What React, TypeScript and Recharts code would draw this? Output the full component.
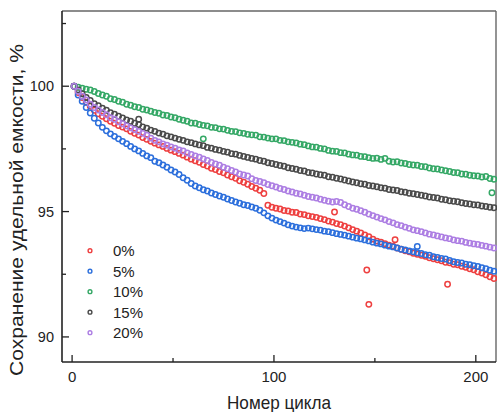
import {
  ScatterChart,
  Scatter,
  XAxis,
  YAxis,
  Legend,
  ReferenceLine,
} from "recharts";

// cycle numbers (every second cycle)
const cycles = [
  1, 3, 5, 7, 9, 11, 13, 15, 17, 19,
  21, 23, 25, 27, 29, 31, 33, 35, 37, 39,
  41, 43, 45, 47, 49, 51, 53, 55, 57, 59,
  61, 63, 65, 67, 69, 71, 73, 75, 77, 79,
  81, 83, 85, 87, 89, 91, 93, 95, 97, 99,
  101, 103, 105, 107, 109, 111, 113, 115, 117, 119,
  121, 123, 125, 127, 129, 131, 133, 135, 137, 139,
  141, 143, 145, 147, 149, 151, 153, 155, 157, 159,
  161, 163, 165, 167, 169, 171, 173, 175, 177, 179,
  181, 183, 185, 187, 189, 191, 193, 195, 197, 199,
  201, 203, 205, 207, 209,
];

const red0 = [
  100.0, 99.75, 99.55, 99.36, 99.2, 99.04, 98.9, 98.8, 98.7, 98.6,
  98.52, 98.43, 98.37, 98.3, 98.2, 98.12, 98.05, 97.95, 97.88, 97.8,
  97.73, 97.66, 97.6, 97.52, 97.45, 97.39, 97.32, 97.25, 97.17, 97.09,
  97.03, 96.97, 96.88, 96.82, 96.73, 96.68, 96.6, 96.55, 96.46, 96.39,
  96.33, 96.23, 96.17, 96.09, 96.0, 95.93, 95.85, 95.72, 95.25, 95.17,
  95.13, 95.1, 95.04, 95.02, 94.97, 94.96, 94.9, 94.88, 94.83, 94.8,
  94.77, 94.72, 94.68, 94.62, 94.58, 94.52, 94.48, 94.42, 94.35, 94.28,
  94.22, 94.15, 94.07, 94.0, 93.9, 93.82, 93.78, 93.72, 93.66, 93.62,
  93.55, 93.5, 93.44, 93.4, 93.34, 93.3, 93.26, 93.22, 93.16, 93.12,
  93.08, 93.04, 92.98, 92.96, 92.9, 92.88, 92.82, 92.78, 92.72, 92.68,
  92.6, 92.55, 92.48, 92.4, 92.33,
];
const red0Extra = [
  [130, 94.98], [146, 92.67], [147, 91.3], [160, 93.88], [186, 92.1],
];

const blue5 = [
  100.0, 99.65, 99.4, 99.15, 98.93, 98.72, 98.53, 98.36, 98.22, 98.1,
  98.0, 97.9, 97.8, 97.71, 97.6, 97.5, 97.42, 97.32, 97.22, 97.15,
  97.01, 96.95, 96.86, 96.77, 96.66, 96.58, 96.48, 96.35, 96.25, 96.12,
  96.02, 95.95, 95.87, 95.82, 95.74, 95.68, 95.62, 95.57, 95.5, 95.44,
  95.38, 95.33, 95.27, 95.24, 95.18, 95.13, 95.05, 94.95, 94.83, 94.74,
  94.66, 94.6, 94.54, 94.47, 94.42, 94.38, 94.35, 94.32, 94.34, 94.31,
  94.28, 94.26, 94.22, 94.2, 94.16, 94.12, 94.09, 94.06, 94.02, 93.98,
  93.94, 93.91, 93.87, 93.83, 93.78, 93.74, 93.71, 93.66, 93.62, 93.59,
  93.55, 93.5, 93.47, 93.43, 93.4, 93.36, 93.33, 93.28, 93.26, 93.2,
  93.17, 93.13, 93.11, 93.05, 93.0, 92.97, 92.95, 92.9, 92.88, 92.84,
  92.81, 92.76, 92.72, 92.66, 92.62,
];
const blue5Extra = [[171, 93.61]];

const green10 = [
  100.0, 99.96, 99.92, 99.88, 99.85, 99.79, 99.71, 99.65, 99.6, 99.5,
  99.47, 99.4, 99.36, 99.28, 99.24, 99.18, 99.15, 99.08, 99.05, 99.0,
  98.95, 98.92, 98.85, 98.83, 98.77, 98.74, 98.68, 98.64, 98.6, 98.53,
  98.52, 98.47, 98.44, 98.42, 98.36, 98.35, 98.3, 98.29, 98.24, 98.2,
  98.19, 98.14, 98.12, 98.08, 98.06, 98.05, 97.98, 97.97, 97.93, 97.9,
  97.9, 97.84, 97.83, 97.78, 97.76, 97.74, 97.69, 97.67, 97.62, 97.58,
  97.57, 97.52, 97.5, 97.44, 97.41, 97.4, 97.35, 97.34, 97.29, 97.26,
  97.25, 97.2, 97.19, 97.15, 97.12, 97.13, 97.08, 97.12, 97.01, 96.98,
  96.99, 96.94, 96.92, 96.88, 96.86, 96.85, 96.8, 96.79, 96.74, 96.71,
  96.7, 96.66, 96.63, 96.6, 96.56, 96.55, 96.5, 96.49, 96.45, 96.43,
  96.42, 96.38, 96.4, 96.32, 96.29,
];
const green10Extra = [[65, 97.9], [208, 95.75]];

const black15 = [
  100.0, 99.85, 99.7, 99.55, 99.43, 99.3, 99.22, 99.12, 99.04, 98.94,
  98.88, 98.8, 98.73, 98.65, 98.6, 98.52, 98.47, 98.38, 98.33, 98.25,
  98.2, 98.13, 98.09, 98.02, 97.98, 97.93, 97.88, 97.84, 97.78, 97.75,
  97.7, 97.66, 97.63, 97.56, 97.53, 97.48, 97.45, 97.4, 97.37, 97.31,
  97.29, 97.24, 97.2, 97.16, 97.12, 97.09, 97.04, 97.01, 96.95, 96.92,
  96.88, 96.84, 96.81, 96.75, 96.72, 96.69, 96.64, 96.62, 96.56, 96.54,
  96.5, 96.47, 96.45, 96.39, 96.37, 96.33, 96.3, 96.26, 96.22, 96.18,
  96.15, 96.11, 96.09, 96.04, 96.02, 95.99, 95.95, 95.93, 95.88, 95.86,
  95.84, 95.79, 95.77, 95.73, 95.71, 95.68, 95.65, 95.62, 95.58, 95.56,
  95.54, 95.49, 95.47, 95.43, 95.41, 95.39, 95.35, 95.32, 95.3, 95.27,
  95.26, 95.22, 95.2, 95.17, 95.15,
];
const black15Extra = [[33, 98.68]];

const purple20 = [
  100.0, 99.8, 99.6, 99.45, 99.28, 99.15, 99.05, 98.95, 98.86, 98.74,
  98.68, 98.58, 98.5, 98.42, 98.34, 98.27, 98.2, 98.12, 98.05, 97.93,
  97.84, 97.78, 97.7, 97.65, 97.58, 97.53, 97.46, 97.42, 97.34, 97.28,
  97.22, 97.17, 97.1, 97.04, 96.96, 96.9, 96.85, 96.77, 96.71, 96.64,
  96.58, 96.5, 96.46, 96.42, 96.31, 96.24, 96.2, 96.15, 96.08, 96.03,
  95.98, 95.92, 95.88, 95.82, 95.78, 95.73, 95.7, 95.65, 95.6, 95.57,
  95.54, 95.49, 95.45, 95.41, 95.38, 95.4, 95.36, 95.27, 95.2, 95.13,
  95.09, 95.03, 94.97, 94.9, 94.84, 94.78, 94.72, 94.67, 94.6, 94.55,
  94.48, 94.44, 94.38, 94.33, 94.27, 94.24, 94.2, 94.15, 94.1, 94.07,
  94.03, 93.99, 93.95, 93.92, 93.87, 93.84, 93.82, 93.77, 93.74, 93.71,
  93.69, 93.65, 93.62, 93.58, 93.55,
];
const purple20Extra: number[][] = [];

const xTicks = [0, 50, 100, 150, 200];
const xLabeled = [0, 100, 200];
const yTicks = [90, 92.5, 95, 97.5, 100, 102.5];
const yLabeled = [90, 95, 100];

const FONT = "'Liberation Sans', Arial, sans-serif";

const toPoints = (vals: number[], extra: number[][]) =>
  vals
    .map((v, i) => ({ x: cycles[i], y: v }))
    .concat(extra.map(([x, y]) => ({ x, y })));

const series = [
  { name: "0%", color: "#ee4040", data: toPoints(red0, red0Extra) },
  { name: "5%", color: "#2c6fdc", data: toPoints(blue5, blue5Extra) },
  { name: "10%", color: "#35a866", data: toPoints(green10, green10Extra) },
  { name: "15%", color: "#4a4a4a", data: toPoints(black15, black15Extra) },
  { name: "20%", color: "#ad7ee3", data: toPoints(purple20, purple20Extra) },
];

const ring = (color: string) => (props: any) => (
  <circle
    cx={props.cx}
    cy={props.cy}
    r={2.7}
    fill="none"
    stroke={color}
    strokeWidth={1.5}
  />
);

function XTick(props: any) {
  const { x, y, payload } = props;
  const major = xLabeled.includes(payload.value);
  return (
    <g>
      <line x1={x} x2={x} y1={y} y2={y - (major ? 7 : 4)} stroke="#222" strokeWidth={1.3} />
      {major && (
        <text x={x} y={y + 19.5} textAnchor="middle" fontSize={15} fill="#222" fontFamily={FONT}>
          {payload.value}
        </text>
      )}
    </g>
  );
}

function YTick(props: any) {
  const { x, y, payload } = props;
  const major = yLabeled.includes(payload.value);
  return (
    <g>
      <line x1={x} x2={x + (major ? 7 : 4)} y1={y} y2={y} stroke="#222" strokeWidth={1.3} />
      {major && (
        <text x={x - 8} y={y + 5} textAnchor="end" fontSize={14.5} fill="#222" fontFamily={FONT}>
          {payload.value}
        </text>
      )}
    </g>
  );
}

function LegendBox() {
  return (
    <svg width={70} height={105}>
      {series.map((s, i) => (
        <g key={s.name}>
          <circle cx={10} cy={10.7 + 20.5 * i} r={1.9} fill="none" stroke={s.color} strokeWidth={1.4} />
          <text x={33} y={16 + 20.5 * i} fontSize={15} fill="#222" fontFamily={FONT}>
            {s.name}
          </text>
        </g>
      ))}
    </svg>
  );
}

export default function App() {
  return (
    <div style={{ position: "absolute", left: 0, top: 0, background: "#fff" }}>
      <ScatterChart
        width={497}
        height={412}
        margin={{ top: 11, right: 1, bottom: 0, left: 0 }}
      >
        <XAxis
          type="number"
          dataKey="x"
          domain={[-5, 210]}
          ticks={xTicks}
          tickSize={0}
          tickMargin={0}
          tickLine={false}
          tick={<XTick />}
          height={50}
          axisLine={{ stroke: "#222", strokeWidth: 1.6 }}
          interval={0}
        />
        <YAxis
          type="number"
          dataKey="y"
          domain={[89, 103]}
          ticks={yTicks}
          tickSize={0}
          tickMargin={0}
          tickLine={false}
          tick={<YTick />}
          width={62}
          axisLine={{ stroke: "#222", strokeWidth: 1.6 }}
          interval={0}
        />
        <ReferenceLine y={103} stroke="#666" strokeWidth={1.4} />
        <ReferenceLine x={210} stroke="#666" strokeWidth={1.4} />
        {series.map((s) => (
          <Scatter
            key={s.name}
            name={s.name}
            data={s.data}
            shape={ring(s.color)}
            isAnimationActive={false}
          />
        ))}
        <Legend
          layout="vertical"
          align="center"
          verticalAlign="middle"
          wrapperStyle={{ left: 80, top: 240, width: 70 }}
          content={() => <LegendBox />}
        />
        <text
          x={279}
          y={409}
          textAnchor="middle"
          fontSize={19}
          fill="#222"
          fontFamily={FONT}
          textLength={104}
          lengthAdjust="spacingAndGlyphs"
        >
          Номер цикла
        </text>
        <text
          x={23}
          y={210}
          transform="rotate(-90 23 210)"
          textAnchor="middle"
          fontSize={19}
          fill="#222"
          fontFamily={FONT}
          textLength={332}
          lengthAdjust="spacingAndGlyphs"
        >
          Сохранение удельной емкости, %
        </text>
      </ScatterChart>
    </div>
  );
}
